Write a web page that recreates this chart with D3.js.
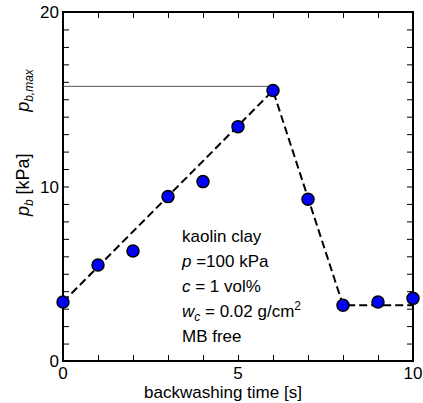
<!DOCTYPE html>
<html>
<head>
<meta charset="utf-8">
<script src="https://cdn.jsdelivr.net/npm/d3@7"></script>
<style>
  body { margin: 0; background: #fff; }
  text { font-family: "Liberation Sans", Arial, sans-serif; }
</style>
</head>
<body>
<div class="chart"></div>
<script>
var times = [0, 1, 2, 3, 4, 5, 6, 7, 8, 9, 10];
var pressures = [3.38, 5.5, 6.3, 9.42, 10.28, 13.43, 15.5, 9.27, 3.19, 3.38, 3.59];
var fitTimes = [0, 6, 8, 10];
var fitValues = [3.38, 15.5, 3.2, 3.2];
var pbMax = 15.74;
var xTickLabels = [0, 5, 10];
var yTickLabels = [0, 10, 20];
var notes = ["kaolin clay", "p =100 kPa", "c = 1 vol%", "w_c = 0.02 g/cm2", "MB free"];

var W = 423, H = 403;
var plotL = 63, plotR = 413, plotT = 12, plotB = 361;

var svg = d3.select(".chart")
  .append("svg")
  .attr("width", W)
  .attr("height", H);

var x = d3.scaleLinear().domain([0, 10]).range([plotL, plotR]);
var y = d3.scaleLinear().domain([0, 20]).range([plotB, plotT]);

// inward ticks on all four sides
svg.append("g")
  .attr("transform", "translate(0," + plotB + ")")
  .call(d3.axisTop(x).ticks(10).tickSize(6).tickFormat(""));
svg.append("g")
  .attr("transform", "translate(0," + plotT + ")")
  .call(d3.axisBottom(x).ticks(10).tickSize(6).tickFormat(""));
svg.append("g")
  .attr("transform", "translate(" + plotL + ",0)")
  .call(d3.axisRight(y).ticks(20).tickSize(6).tickFormat(""));
svg.append("g")
  .attr("transform", "translate(" + plotR + ",0)")
  .call(d3.axisLeft(y).ticks(20).tickSize(6).tickFormat(""));

svg.selectAll(".domain").remove();
svg.selectAll(".tick line").attr("stroke", "#000").attr("stroke-width", 1);

// frame
svg.append("rect")
  .attr("x", plotL).attr("y", plotT)
  .attr("width", plotR - plotL).attr("height", plotB - plotT)
  .attr("fill", "none").attr("stroke", "#000").attr("stroke-width", 2);

// tick labels
svg.selectAll(".xlab")
  .data(xTickLabels)
  .enter().append("text")
  .attr("class", "xlab")
  .attr("x", function(d){ return x(d); })
  .attr("y", plotB + 18)
  .attr("text-anchor", "middle")
  .attr("font-size", "17px")
  .text(function(d){ return d; });

svg.selectAll(".ylab")
  .data(yTickLabels)
  .enter().append("text")
  .attr("class", "ylab")
  .attr("x", plotL - 4)
  .attr("y", function(d){ return y(d) + 6; })
  .attr("text-anchor", "end")
  .attr("font-size", "17px")
  .text(function(d){ return d; });

// axis titles
svg.append("text")
  .attr("x", (plotL + plotR) / 2 - 15)
  .attr("y", 398)
  .attr("text-anchor", "middle")
  .attr("font-size", "17px")
  .text("backwashing time [s]");

var yt = svg.append("text")
  .attr("transform", "translate(29," + y(10.1) + ") rotate(-90)")
  .attr("text-anchor", "middle")
  .attr("font-size", "18px");
yt.append("tspan").attr("font-style", "italic").text("p");
yt.append("tspan").attr("font-style", "italic").attr("font-size", "12px").attr("dy", 4).text("b");
yt.append("tspan").attr("dy", -4).text(" [kPa]");

var ym = svg.append("text")
  .attr("transform", "translate(29," + y(15.5) + ") rotate(-90)")
  .attr("text-anchor", "middle")
  .attr("font-size", "18px")
  .attr("font-style", "italic");
ym.append("tspan").text("p");
ym.append("tspan").attr("font-size", "12px").attr("dy", 4).text("b,max");

// p_b,max reference line
svg.append("line")
  .attr("x1", x(0)).attr("x2", x(6))
  .attr("y1", y(pbMax)).attr("y2", y(pbMax))
  .attr("stroke", "#555").attr("stroke-width", 1);

// dashed fit line
var line = d3.line()
  .x(function(d, i){ return x(fitTimes[i]); })
  .y(function(d){ return y(d); });

svg.append("path")
  .attr("d", line(fitValues))
  .attr("fill", "none")
  .attr("stroke", "#000")
  .attr("stroke-width", 2)
  .attr("stroke-dasharray", "8,4");

// points
svg.selectAll("circle")
  .data(pressures)
  .enter().append("circle")
  .attr("cx", function(d, i){ return x(times[i]); })
  .attr("cy", function(d){ return y(d); })
  .attr("r", 6)
  .attr("fill", "#0000ff")
  .attr("stroke", "#000")
  .attr("stroke-width", 1.5);

// annotation
var ann = svg.append("g").attr("font-size", "17px");
var bx = 182, by = 242, step = 25;
ann.append("text").attr("x", bx).attr("y", by).text(notes[0]);

var t1 = ann.append("text").attr("x", bx).attr("y", by + step);
t1.append("tspan").attr("font-style", "italic").text("p");
t1.append("tspan").text(" =100 kPa");

var t2 = ann.append("text").attr("x", bx).attr("y", by + step * 2);
t2.append("tspan").attr("font-style", "italic").text("c");
t2.append("tspan").text(" = 1 vol%");

var t3 = ann.append("text").attr("x", bx).attr("y", by + step * 3);
t3.append("tspan").attr("font-style", "italic").text("w");
t3.append("tspan").attr("font-style", "italic").attr("font-size", "12px").attr("dy", 4).text("c");
t3.append("tspan").attr("dy", -4).text(" = 0.02 g/cm");
t3.append("tspan").attr("font-size", "12px").attr("dy", -7).text("2");

ann.append("text").attr("x", bx).attr("y", by + step * 4).text(notes[4]);
</script>
</body>
</html>
